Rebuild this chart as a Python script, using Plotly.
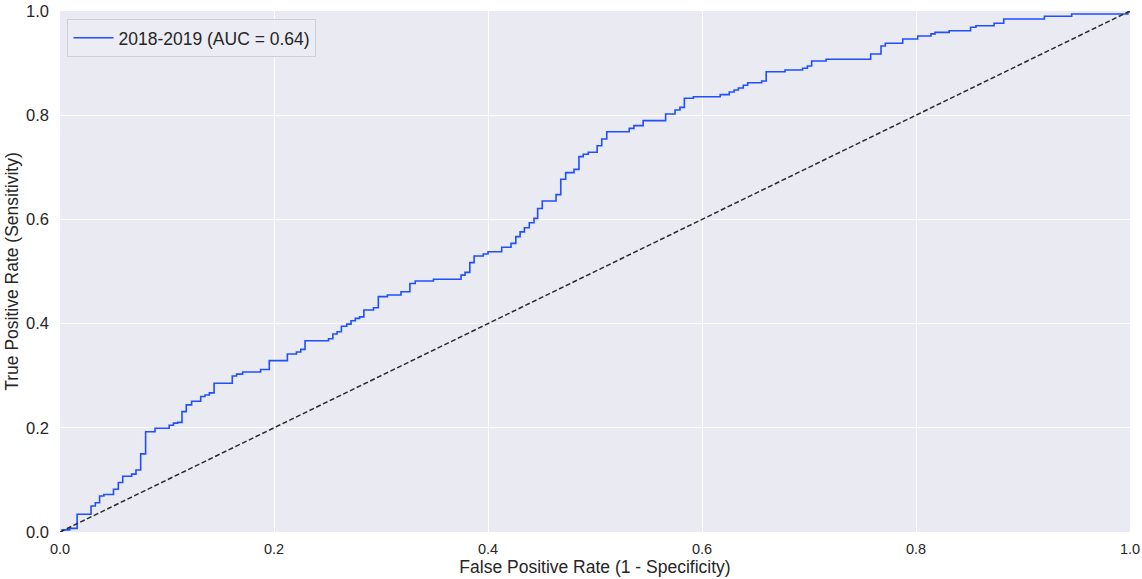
import plotly.graph_objects as go

# ROC steps: false positive rate where each jump happens, tpr after it
fpr = [0.0, 0.002, 0.009, 0.016, 0.029, 0.033, 0.037, 0.041, 0.050, 0.0545, 0.0586,
       0.067, 0.071, 0.0754, 0.080, 0.0888, 0.102, 0.106, 0.110, 0.114, 0.118, 0.123,
       0.1315, 0.1355, 0.1396, 0.144, 0.161, 0.165, 0.1707, 0.1875, 0.1956, 0.2125,
       0.221, 0.225, 0.229, 0.251, 0.255, 0.259, 0.263, 0.268, 0.272, 0.276, 0.280,
       0.284, 0.293, 0.2975, 0.306, 0.3187, 0.327, 0.332, 0.349, 0.3748, 0.3785, 0.383,
       0.387, 0.3956, 0.400, 0.4128, 0.4215, 0.426, 0.430, 0.434, 0.4386, 0.443, 0.4464,
       0.4507, 0.4636, 0.468, 0.4726, 0.4804, 0.485, 0.489, 0.4937, 0.502, 0.5063, 0.511,
       0.532, 0.5364, 0.545, 0.566, 0.5748, 0.5794, 0.5835, 0.592, 0.617, 0.6255, 0.630,
       0.634, 0.6386, 0.6427, 0.6558, 0.660, 0.6776, 0.694, 0.6985, 0.7025, 0.716, 0.7576,
       0.7673, 0.7713, 0.7876, 0.8016, 0.814, 0.8178, 0.831, 0.851, 0.856, 0.873, 0.882,
       0.920, 0.9455, 0.998, 1.0]
tpr = [0.0, 0.004, 0.007, 0.034, 0.050, 0.056, 0.069, 0.072, 0.082, 0.095, 0.107,
       0.111, 0.119, 0.150, 0.1925, 0.199, 0.205, 0.209, 0.2105, 0.231, 0.244, 0.251,
       0.260, 0.263, 0.267, 0.2854, 0.2994, 0.303, 0.307, 0.312, 0.329, 0.3417,
       0.3455, 0.3506, 0.367, 0.371, 0.380, 0.3845, 0.395, 0.399, 0.4056, 0.410, 0.413,
       0.426, 0.4305, 0.4517, 0.455, 0.461, 0.477, 0.4818, 0.485, 0.493, 0.4984, 0.517,
       0.5298, 0.5336, 0.538, 0.5465, 0.554, 0.567, 0.576, 0.584, 0.5937, 0.602, 0.621,
       0.6353, 0.6475, 0.677, 0.6897, 0.696, 0.7204, 0.725, 0.7288, 0.7415, 0.7543, 0.7683,
       0.7748, 0.780, 0.7895, 0.8023, 0.810, 0.815, 0.8324, 0.8355, 0.8394, 0.8445, 0.8484,
       0.8522, 0.8574, 0.8624, 0.8656, 0.8835, 0.8868, 0.890, 0.8944, 0.904, 0.9073, 0.9175,
       0.9328, 0.938, 0.9463, 0.952, 0.956, 0.959, 0.962, 0.9687, 0.9718, 0.9764, 0.9846,
       0.9898, 0.9942, 0.998, 1.0]
chance = [0.0, 1.0]
label = '2018-2019 (AUC = 0.64)'

family = 'Liberation Sans, Arial, sans-serif'
ink = '#262626'

fig = go.Figure()
fig.add_trace(go.Scatter(x=fpr, y=tpr, mode='lines', line_shape='hv', name=label,
                         line=dict(color='#1f4fff', width=1.6)))
fig.add_trace(go.Scatter(x=chance, y=chance, mode='lines', showlegend=False,
                         line=dict(color='#2b2b2b', width=1.5, dash='5px,2.5px')))

axis = dict(range=[0, 1], dtick=0.2, tickformat='.1f', showgrid=True, gridcolor='white',
            gridwidth=1, zeroline=False, showline=False, ticks='', ticklen=0,
            automargin=False, title_font=dict(family=family, size=17.5, color=ink))
fig.update_xaxes(axis, title_text='False Positive Rate (1 - Specificity)', title_standoff=2,
                 tickfont=dict(family=family, size=14.5, color=ink), ticklabelstandoff=6)
fig.update_yaxes(axis, title_text='True Positive Rate (Sensitivity)', title_standoff=2,
                 tickfont=dict(family=family, size=16.5, color=ink), ticklabelstandoff=10)

fig.update_layout(
    width=1142, height=579,
    margin=dict(l=60, r=12, t=11, b=47),
    plot_bgcolor='#eaeaf2', paper_bgcolor='white',
    font=dict(family=family, color=ink),
    legend=dict(x=0.007, y=0.985, xanchor='left', yanchor='top', itemwidth=40,
                bgcolor='rgba(236,236,244,0.9)', bordercolor='#cfcfd6', borderwidth=1,
                font=dict(family=family, size=17.5, color=ink)),
)

fig.write_html("out.html", config={'displayModeBar': False},
               post_script="document.body.style.margin='0';")
